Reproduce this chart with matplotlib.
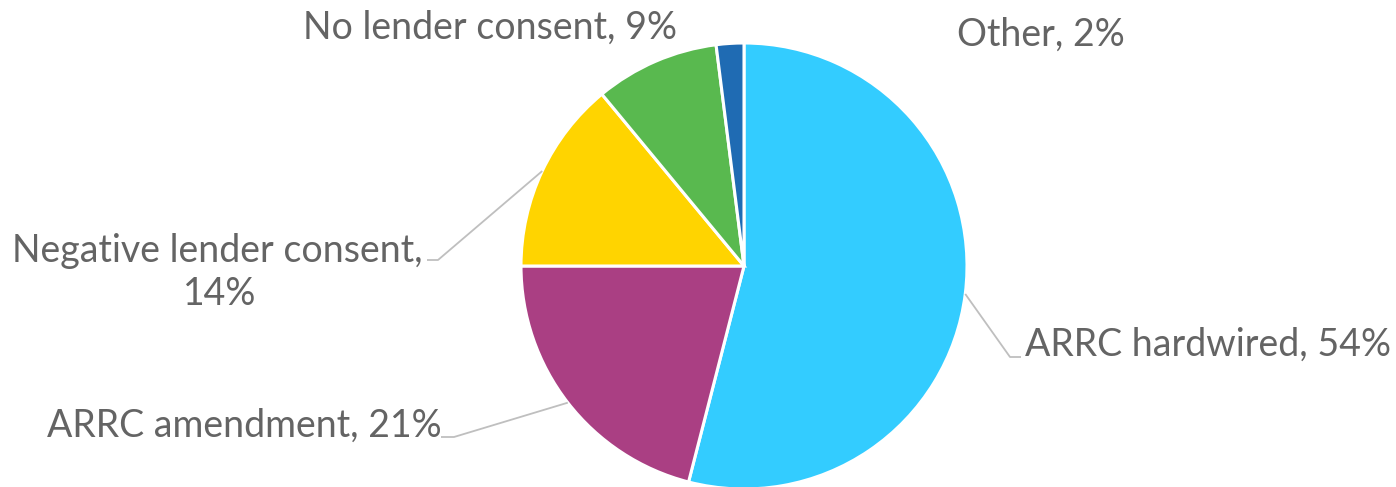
import numpy as np
import matplotlib.pyplot as plt

categories = ["ARRC hardwired", "ARRC amendment", "Negative lender consent",
              "No lender consent", "Other"]
shares = [54, 21, 14, 9, 2]
colors = ["#33CCFF", "#AA3F83", "#FFD400", "#59B94F", "#1F6BB3"]

W, H = 1396, 487
fig = plt.figure(figsize=(W / 100, H / 100), dpi=100)
ax = fig.add_axes([0, 0, 1, 1])

cx, cy, r = 744, H - 266, 223
wedges, _ = ax.pie(shares, colors=colors, startangle=90, counterclock=False,
                   center=(cx, cy), radius=r, frame=True,
                   wedgeprops=dict(edgecolor="white", linewidth=2.2))
ax.set_xlim(0, W)
ax.set_ylim(0, H)
ax.set_aspect("equal")
ax.axis("off")

txt_color = "#646464"
font = dict(family=["Lato", "DejaVu Sans"], size=27, color=txt_color)
line_color = "#BFBFBF"

# label layout: text anchor (pixels from top-left), alignment, leader elbow + end
layout = {
    "ARRC hardwired": dict(xy=(1025, 356), ha="left", leader=[(1010, 357), (1021, 357)]),
    "ARRC amendment": dict(xy=(47, 437), ha="left", leader=[(454, 437), (441, 437)]),
    "Negative lender consent": dict(xy=(217, 262), ha="center", leader=[(438, 260), (427, 260)]),
    "No lender consent": dict(xy=(303, 39), ha="left", leader=None),
    "Other": dict(xy=(957, 46), ha="left", leader=None),
}

for w, name, val in zip(wedges, categories, shares):
    lay = layout[name]
    x, y = lay["xy"]
    if name == "Negative lender consent":
        ax.text(x, H - y, f"{name},", ha="center", va="baseline", **font)
        ax.text(x + 3, H - y - 43, f"{val}%", ha="center", va="baseline", **font)
    else:
        ax.text(x, H - y, f"{name}, {val}%", ha=lay["ha"], va="baseline", **font)
    if lay["leader"]:
        mid = np.deg2rad((w.theta1 + w.theta2) / 2)
        px = cx + r * np.cos(mid)
        py = cy + r * np.sin(mid)
        xs = [px] + [p[0] for p in lay["leader"]]
        ys = [py] + [H - p[1] for p in lay["leader"]]
        ax.plot(xs, ys, color=line_color, lw=1.3, solid_capstyle="butt")

fig.savefig("out.png", dpi=100, facecolor="white")
